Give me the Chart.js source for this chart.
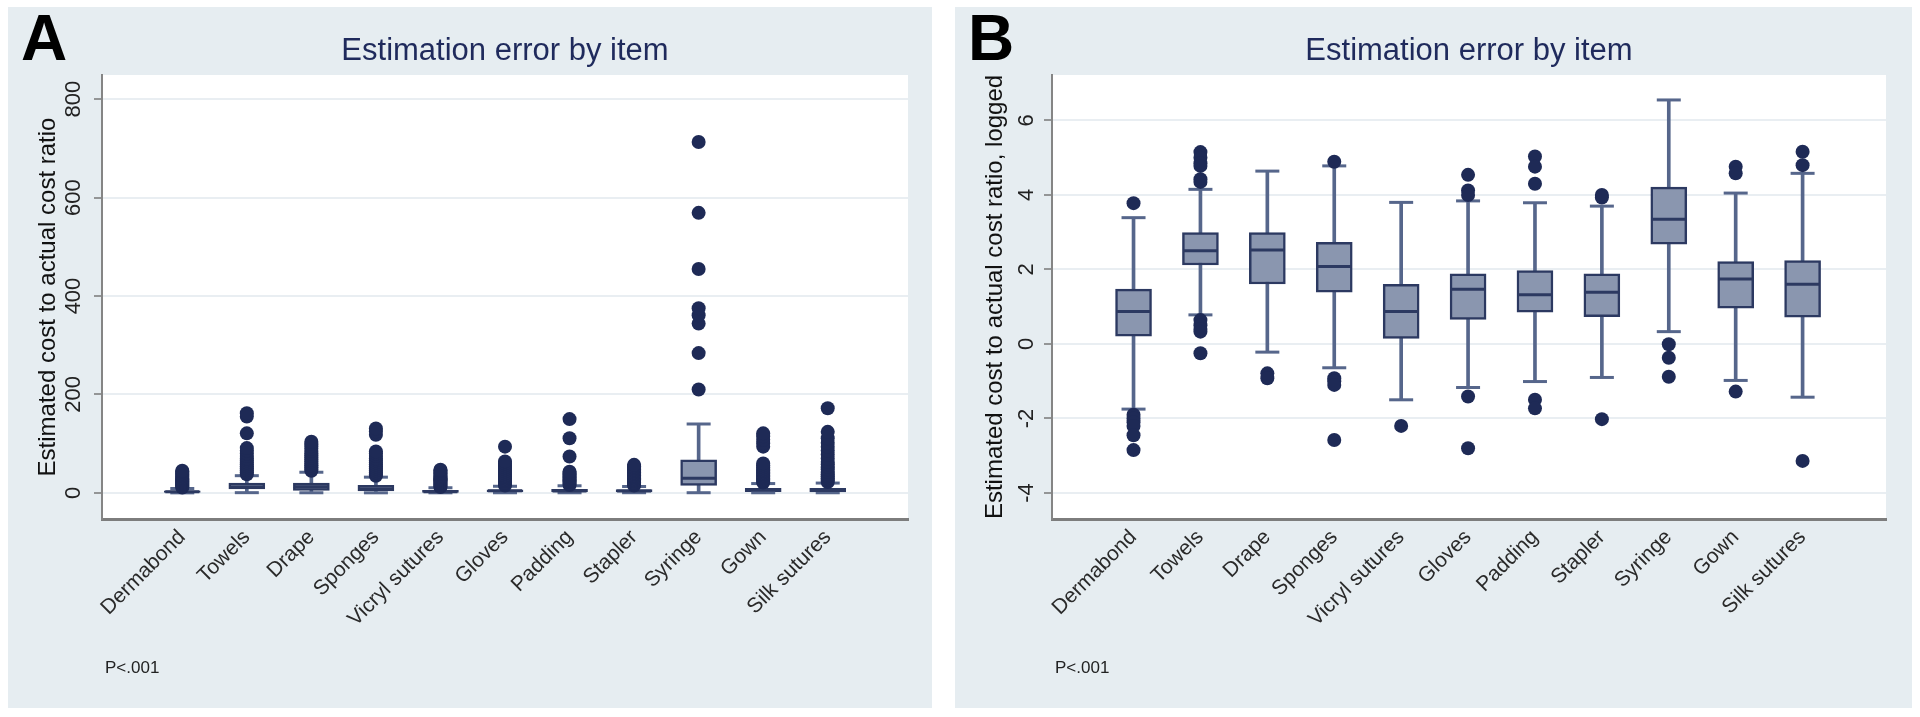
<!DOCTYPE html>
<html>
<head>
<meta charset="utf-8">
<title>Estimation error by item</title>
<script src="https://cdn.jsdelivr.net/npm/chart.js@4"></script>
<style>
  body { margin: 0; background: #fff; width: 1920px; height: 717px; position: relative; overflow: hidden; font-family: "Liberation Sans", Arial, sans-serif; }
  .panel { position: absolute; top: 7px; height: 701px; background: #e6edf1; }
  .letter { position: absolute; left: 13px; top: -6px; font-size: 64px; font-weight: bold; color: #000; }
  .note { position: absolute; top: 651px; font-size: 17px; color: #222; }
</style>
</head>
<body>
<div class="panel" id="panelA" style="left: 8px; width: 924px;">
  <canvas id="chartA" width="924" height="701"></canvas>
  <div class="letter">A</div>
  <div class="note" style="left: 97px;">P&lt;.001</div>
</div>
<div class="panel" id="panelB" style="left: 955px; width: 957px;">
  <canvas id="chartB" width="957" height="701"></canvas>
  <div class="letter">B</div>
  <div class="note" style="left: 100px;">P&lt;.001</div>
</div>
<script>
'use strict';

// categories, same for both panels
let items = ['Dermabond', 'Towels', 'Drape', 'Sponges', 'Vicryl sutures', 'Gloves',
  'Padding', 'Stapler', 'Syringe', 'Gown', 'Silk sutures'];

// panel A - ratio, raw
let lowA = [0.1, 0.5, 0.3, 0.2, 0.2, 0.3, 0.3, 0.4, 0.4, 0.3, 0.3];
let q1A = [1.2, 8.3, 5.0, 4.0, 1.2, 1.9, 2.3, 2.1, 15, 2.6, 2.05];
let medA = [2.4, 12.2, 12.4, 8.0, 2.4, 4.3, 3.7, 4.0, 30, 5.7, 4.95];
let q3A = [4.3, 19.9, 19.9, 15.3, 5.0, 6.5, 7.2, 6.6, 67, 9.1, 9.4];
let highA = [9, 35, 42, 32, 10.5, 13.5, 14.5, 13, 140, 19, 20];
let outA = [
  [11, 13, 15, 17, 19, 21, 23, 25, 27, 29, 31, 34, 37, 40, 43, 45],
  [38, 42, 46, 50, 54, 58, 62, 66, 70, 75, 80, 86, 91, 121, 155, 162],
  [45, 48, 52, 56, 60, 64, 68, 72, 76, 80, 85, 90, 95, 100, 104],
  [35, 38, 42, 46, 50, 54, 58, 62, 66, 70, 75, 80, 84, 118, 125, 131],
  [12, 14, 16, 18, 20, 22, 24, 26, 28, 30, 33, 36, 39, 42, 45, 47],
  [15, 18, 21, 24, 27, 30, 33, 36, 40, 44, 48, 52, 56, 60, 64, 94],
  [16, 19, 22, 25, 28, 31, 34, 37, 40, 43, 74, 111, 150],
  [15, 18, 21, 24, 27, 30, 33, 36, 39, 42, 45, 48, 51, 54, 57],
  [210, 284, 344, 361, 375, 455, 569, 713],
  [21, 24, 27, 30, 33, 36, 39, 42, 45, 48, 52, 56, 60, 94, 101, 108, 115, 121],
  [22, 26, 30, 34, 38, 43, 48, 53, 58, 63, 70, 78, 86, 94, 102, 111, 124, 172]
];
let yTicksA = [0, 200, 400, 600, 800];

// panel B - ratio, logged
let lowB = [-1.75, 0.78, -0.22, -0.64, -1.50, -1.17, -1.01, -0.90, 0.33, -0.98, -1.43];
let q1B = [0.21, 2.12, 1.61, 1.39, 0.15, 0.66, 0.85, 0.73, 2.68, 0.96, 0.72];
let medB = [0.87, 2.50, 2.52, 2.08, 0.87, 1.47, 1.32, 1.39, 3.35, 1.74, 1.60];
let q3B = [1.47, 2.99, 2.99, 2.73, 1.60, 1.88, 1.97, 1.88, 4.21, 2.21, 2.24];
let highB = [3.39, 4.15, 4.64, 4.78, 3.80, 3.84, 3.79, 3.70, 6.55, 4.05, 4.58];
let outB = [
  [3.78, -1.9, -2.0, -2.1, -2.2, -2.45, -2.85],
  [5.15, 5.0, 4.85, 4.78, 4.42, 4.35, 0.64, 0.5, 0.4, 0.33, -0.25],
  [-0.79, -0.92],
  [4.89, -0.92, -1.0, -1.10, -2.58],
  [-2.2],
  [4.54, 4.12, 4.0, -1.41, -2.80],
  [5.03, 4.76, 4.30, -1.50, -1.73],
  [4.0, 3.93, -2.02],
  [-0.01, -0.37, -0.88],
  [4.76, 4.58, -1.28],
  [5.16, 4.80, -3.14]
];
let yTicksB = [-4, -2, 0, 2, 4, 6];

Chart.defaults.font.family = '"Liberation Sans", Arial, sans-serif';

let navy = '#1e2a56';
let boxLine = '#2c3961';
let boxFill = '#8a96af';
let whiskerCol = '#56668b';

function makeBoxChart(canvasId, p) {
  let boxData = items.map((name, i) => ({ x: i, y: [p.q1[i], p.q3[i]] }));
  let whiskerData = items.map((name, i) => ({ x: i, y: [p.low[i], p.high[i]] }));
  let capData = [];
  let medData = [];
  let dotData = [];
  for (let i = 0; i < items.length; i++) {
    capData.push({ x: i, y: p.low[i] });
    capData.push({ x: i, y: p.high[i] });
    medData.push({ x: i, y: p.med[i] });
    p.out[i].forEach(v => dotData.push({ x: i, y: v }));
  }

  // panel colour, white plot region, title and upright y tick labels
  let stataLook = {
    id: 'stataLook',
    beforeDraw(chart) {
      let ctx = chart.ctx;
      let a = chart.chartArea;
      ctx.save();
      ctx.fillStyle = '#e6edf1';
      ctx.fillRect(0, 0, chart.width, chart.height);
      ctx.fillStyle = '#fff';
      ctx.fillRect(a.left, a.top, a.right - a.left, a.bottom - a.top);
      ctx.restore();
    },
    afterDraw(chart) {
      let ctx = chart.ctx;
      let a = chart.chartArea;
      let ys = chart.scales.y;
      ctx.save();
      ctx.fillStyle = '#1f2a5c';
      ctx.font = '31px "Liberation Sans", Arial, sans-serif';
      ctx.textAlign = 'center';
      ctx.textBaseline = 'middle';
      ctx.fillText('Estimation error by item', (a.left + a.right) / 2, 44);
      ctx.fillStyle = '#222';
      ctx.font = '22px "Liberation Sans", Arial, sans-serif';
      ys.ticks.forEach(t => {
        ctx.save();
        ctx.translate(a.left - p.tickGap, ys.getPixelForValue(t.value));
        ctx.rotate(-Math.PI / 2);
        ctx.fillText(String(t.value), 0, 0);
        ctx.restore();
      });
      ctx.restore();
    }
  };

  return new Chart(document.getElementById(canvasId), {
    type: 'bar',
    data: {
      datasets: [
        {
          type: 'bar', data: whiskerData, grouped: false, barThickness: 3,
          backgroundColor: whiskerCol, borderWidth: 0, order: 5
        },
        {
          type: 'bar', data: boxData, grouped: false, barThickness: 36,
          backgroundColor: boxFill, borderColor: boxLine, borderWidth: 2.5,
          borderSkipped: false, order: 4
        },
        {
          type: 'scatter', data: capData, pointStyle: 'line', pointRadius: 12,
          borderColor: whiskerCol, pointBorderWidth: 3, order: 3
        },
        {
          type: 'scatter', data: medData, pointStyle: 'line', pointRadius: 17,
          borderColor: boxLine, pointBorderWidth: 3, order: 2
        },
        {
          type: 'scatter', data: dotData, pointRadius: 7, borderWidth: 0,
          backgroundColor: navy, pointBorderWidth: 0, order: 1
        }
      ]
    },
    options: {
      responsive: false,
      animation: false,
      devicePixelRatio: 1,
      layout: { padding: { top: 68, right: p.padRight, bottom: 0, left: 0 } },
      plugins: { legend: { display: false }, tooltip: { enabled: false } },
      scales: {
        x: {
          type: 'linear',
          min: p.xMin,
          max: p.xMax,
          afterBuildTicks: s => { s.ticks = items.map((name, i) => ({ value: i })); },
          afterFit: s => { s.height = 189; },
          grid: { display: false, drawTicks: false },
          border: { display: true, color: '#7d7d7d', width: 3 },
          ticks: {
            minRotation: 45, maxRotation: 45, padding: 6,
            color: '#2a2a2a', font: { size: 21 },
            callback: v => items[v]
          }
        },
        y: {
          min: p.yMin,
          max: p.yMax,
          afterBuildTicks: s => { s.ticks = p.yTicks.map(v => ({ value: v })); },
          afterFit: s => { s.width = p.axisWidth; },
          grid: { color: '#e9eef2', lineWidth: 2, drawTicks: true, tickLength: 8, tickColor: '#777', tickWidth: 1.5 },
          border: { display: true, color: '#858585', width: 2 },
          ticks: { display: false },
          title: {
            display: true, text: p.yTitle, color: '#111',
            font: { size: 24 }, padding: { top: 26, bottom: 0 }
          }
        }
      }
    },
    plugins: [stataLook]
  });
}

makeBoxChart('chartA', {
  low: lowA, q1: q1A, med: medA, q3: q3A, high: highA, out: outA, yTicks: yTicksA,
  yMin: -53, yMax: 849, xMin: -0.676, xMax: 10.676,
  axisWidth: 94, padRight: 24, tickGap: 28,
  yTitle: 'Estimated cost to actual cost ratio'
});

makeBoxChart('chartB', {
  low: lowB, q1: q1B, med: medB, q3: q3B, high: highB, out: outB, yTicks: yTicksB,
  yMin: -4.70, yMax: 7.22, xMin: -0.652, xMax: 10.68,
  axisWidth: 97, padRight: 26, tickGap: 25,
  yTitle: 'Estimated cost to actual cost ratio, logged'
});
</script>
</body>
</html>
